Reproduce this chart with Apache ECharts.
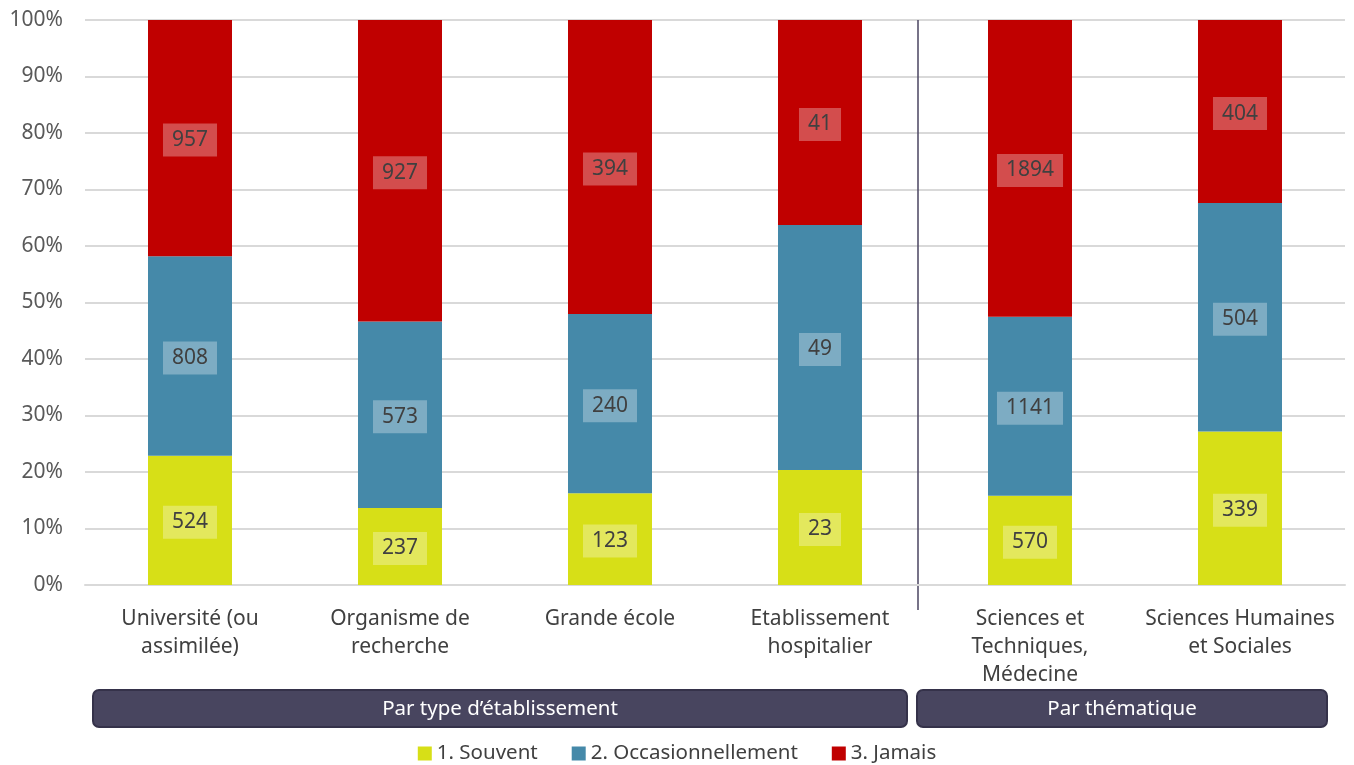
<!DOCTYPE html>
<html>
<head>
<meta charset="utf-8">
<script src="https://cdn.jsdelivr.net/npm/echarts@6/dist/echarts.min.js"></script>
<style>
	html, body { margin: 0; padding: 0; background: #fff; }
	#main { width: 1354px; height: 765px; }
</style>
</head>
<body>
<div id="main"></div>
<script>
var categories = ['Université (ou\nassimilée)', 'Organisme de\nrecherche', 'Grande école', 'Etablissement\nhospitalier', 'Sciences et\nTechniques,\nMédecine', 'Sciences Humaines\net Sociales'];
var souvent = [524, 237, 123, 23, 570, 339];
var occasionnellement = [808, 573, 240, 49, 1141, 504];
var jamais = [957, 927, 394, 41, 1894, 404];
var seriesNames = ['1. Souvent', '2. Occasionnellement', '3. Jamais'];
var groups = [
	{ name: 'Par type d\u2019établissement', from: 0, to: 3 },
	{ name: 'Par thématique', from: 4, to: 5 }
];
var yTicks = [0, 10, 20, 30, 40, 50, 60, 70, 80, 90, 100];

var FONT = '"Noto Sans", sans-serif';
var colors = ['#d7df17', '#4589a9', '#c00000'];

var totals = categories.map(function(c, i) {
	return souvent[i] + occasionnellement[i] + jamais[i];
});

// 100% stack: share of each answer, count kept for the label
function toPct(arr) {
	return arr.map(function(v, i) {
		return { value: v / totals[i] * 100, count: v };
	});
}

var label = {
	show: true,
	position: 'inside',
	offset: [0, 2],
	formatter: function(p) { return p.data.count; },
	color: '#404040',
	fontSize: 21,
	fontFamily: FONT,
	backgroundColor: 'rgba(255,255,255,0.3)',
	padding: [6, 9]
};

var chart = echarts.init(document.getElementById('main'));

var option = {
	animation: false,
	color: colors,
	textStyle: { fontFamily: FONT },
	grid: { left: 85, right: 9, top: 20, bottom: 180, containLabel: false },
	legend: {
		top: 738,
		itemWidth: 14,
		itemHeight: 14,
		itemGap: 34,
		icon: 'rect',
		textStyle: { color: '#404040', fontSize: 20.5, fontFamily: FONT },
		data: seriesNames
	},
	xAxis: {
		type: 'category',
		data: categories,
		axisTick: { show: false },
		axisLine: { lineStyle: { color: '#d9d9d9', width: 2 } },
		axisLabel: { color: '#404040', fontSize: 21, lineHeight: 28, margin: 20, interval: 0, fontFamily: FONT }
	},
	yAxis: {
		type: 'value',
		min: yTicks[0],
		max: yTicks[yTicks.length - 1],
		interval: 10,
		axisLine: { show: false },
		axisTick: { show: false },
		axisLabel: { formatter: '{value}%', color: '#595959', fontSize: 21, margin: 22, fontFamily: FONT },
		splitLine: { lineStyle: { color: '#d9d9d9', width: 2 } }
	},
	series: [
		{ name: seriesNames[0], type: 'bar', stack: 'all', barWidth: '40%', data: toPct(souvent), label: label },
		{ name: seriesNames[1], type: 'bar', stack: 'all', barWidth: '40%', data: toPct(occasionnellement), label: label },
		{ name: seriesNames[2], type: 'bar', stack: 'all', barWidth: '40%', data: toPct(jamais), label: label }
	]
};

chart.setOption(option);

// group boxes + separator, placed from the category axis
var step = chart.convertToPixel({ xAxisIndex: 0 }, 1) - chart.convertToPixel({ xAxisIndex: 0 }, 0);
var yTop = chart.convertToPixel({ yAxisIndex: 0 }, 100);
var yZero = chart.convertToPixel({ yAxisIndex: 0 }, 0);
var graphics = [];
groups.forEach(function(g, gi) {
	var x0 = chart.convertToPixel({ xAxisIndex: 0 }, g.from) - step / 2 + (gi === 0 ? 8 : -8);
	var x1 = chart.convertToPixel({ xAxisIndex: 0 }, g.to) + step / 2 - 18;
	graphics.push({
		type: 'rect',
		shape: { x: x0, y: 690, width: x1 - x0, height: 37, r: 6 },
		style: { fill: '#48455f', stroke: '#35324a', lineWidth: 2 }
	});
	graphics.push({
		type: 'text',
		x: (x0 + x1) / 2,
		y: 709,
		style: { text: g.name, fill: '#fff', fontSize: 20.5, fontFamily: FONT, align: 'center', verticalAlign: 'middle' }
	});
});
var sepX = chart.convertToPixel({ xAxisIndex: 0 }, groups[0].to) + step / 2 - 7;
graphics.push({
	type: 'line',
	shape: { x1: sepX, y1: yTop, x2: sepX, y2: yZero + 25 },
	style: { stroke: '#4a4561', lineWidth: 1.5 }
});
chart.setOption({ graphic: graphics });
</script>
</body>
</html>
